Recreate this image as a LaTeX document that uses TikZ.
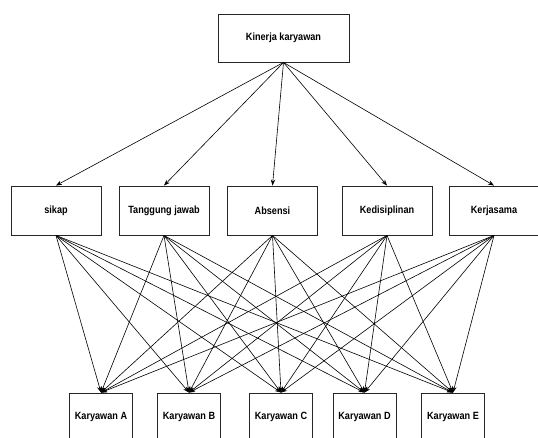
\documentclass[tikz,border=0pt]{standalone}
\usepackage{fontspec}
\newfontfamily\boxfont[FakeStretch=0.87]{Liberation Sans}
\usetikzlibrary{arrows.meta}
\begin{document}
\begin{tikzpicture}[x=1pt,y=-1pt,-{Stealth[length=6pt,width=4.5pt]},line width=0.6pt]
                \tikzstyle{box}=[rectangle,draw=black!85,line width=0.9pt,fill=white,inner sep=0pt,font=\boxfont\bfseries\fontsize{10.5}{12}\selectfont]
                \tikzstyle{crit}=[box,minimum width=90pt,minimum height=49pt]
                \tikzstyle{alt}=[box,minimum width=63pt,minimum height=48pt]
                        \useasboundingbox (0,0) rectangle (538,438);
                        \clip (0,0) rectangle (538,438);
                        \node[box,minimum width=131pt,minimum height=48pt] (K) at (283.5, 38){Kinerja karyawan};
                        \node[crit] (C-1) at (56, 210.5){sikap};
                        \node[crit] (C-2) at (164, 210.5){Tanggung jawab};
                        \node[crit] (C-3) at (272.5, 210.5){Absensi};
                        \node[crit] (C-4) at (387, 210.5){Kedisiplinan};
                        \node[crit] (C-5) at (494, 210.5){Kerjasama};
                        \node[alt] (A-1) at (101, 417){Karyawan A};
                        \node[alt] (A-2) at (189, 417){Karyawan B};
                        \node[alt] (A-3) at (281, 417){Karyawan C};
                        \node[alt] (A-4) at (364.5, 417){Karyawan D};
                        \node[alt] (A-5) at (453, 417){Karyawan E};

                    \foreach \to in {1,...,5}
                        \draw (K.south) -- (C-\to.north);
                    \foreach \from in {1,...,5}
                        \foreach \to in {1,...,5}
                            \draw (C-\from.south) -- (A-\to.north);
            \end{tikzpicture}
\end{document}
